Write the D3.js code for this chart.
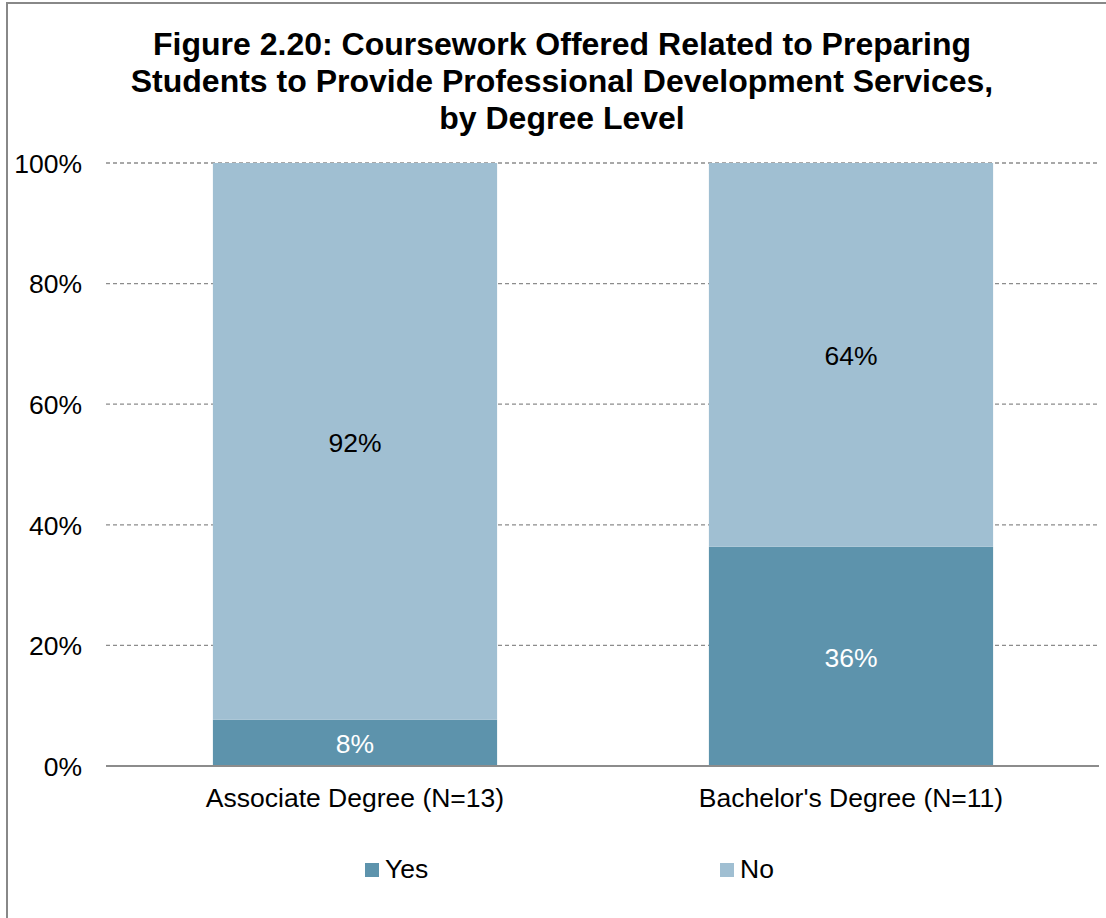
<!DOCTYPE html>
<html><head><meta charset="utf-8">
<script src="https://cdn.jsdelivr.net/npm/d3@7"></script>
<style>body{margin:0;background:#fff;} svg{display:block;font-family:"Liberation Sans",Arial,sans-serif;}</style>
</head><body>
<script>
const categories = ["Associate Degree (N=13)", "Bachelor's Degree (N=11)"];
const seriesNames = ["Yes", "No"];
const yesValues = [7.69, 36.36];
const noValues = [92.31, 63.64];
const yesLabels = ["8%", "36%"];
const noLabels = ["92%", "64%"];
const yTicks = [0, 20, 40, 60, 80, 100];
const titleLines = ["Figure 2.20: Coursework Offered Related to Preparing", "Students to Provide Professional Development Services,", "by Degree Level"];
const colors = {Yes: "#5D93AC", No: "#A0BFD2"};

const W = 1106, H = 918;
const FS = 26.5;
const svg = d3.select("body").append("svg").attr("width", W).attr("height", H);
svg.append("rect").attr("x", 7).attr("y", 3).attr("width", W + 10).attr("height", H + 10)
  .attr("fill", "#fff").attr("stroke", "#888").attr("stroke-width", 2);

svg.append("g").selectAll("text").data(titleLines).join("text")
  .attr("x", 562).attr("y", (d, i) => 55 + i * 37)
  .attr("text-anchor", "middle").attr("font-weight", "bold").attr("font-size", 32).attr("fill", "#000")
  .text(d => d);

const x = d3.scaleBand().domain(categories).range([107, 1099]).paddingInner(0.427).paddingOuter(0.2135);
const y = d3.scaleLinear().domain([0, 100]).range([766, 163]);

// gridlines
svg.append("g").selectAll("line").data(yTicks.filter(t => t > 0)).join("line")
  .attr("x1", 106).attr("x2", 1099).attr("y1", d => y(d)).attr("y2", d => y(d))
  .attr("stroke", "#8c8c8c").attr("stroke-width", 1.3).attr("stroke-dasharray", "4,3");

const stackData = categories.map((c, i) => ({cat: c, Yes: yesValues[i], No: noValues[i]}));
const stack = d3.stack().keys(seriesNames)(stackData);
svg.append("g").selectAll("g").data(stack).join("g").attr("fill", d => colors[d.key])
  .selectAll("rect").data(d => d).join("rect")
  .attr("x", d => x(d.data.cat)).attr("width", x.bandwidth())
  .attr("y", d => y(d[1])).attr("height", d => y(d[0]) - y(d[1]));

// labels
const lab = svg.append("g").attr("font-size", FS).attr("text-anchor", "middle");
stack.forEach((s, si) => {
  s.forEach((d, i) => {
    lab.append("text").attr("x", x(d.data.cat) + x.bandwidth() / 2)
      .attr("y", (y(d[0]) + y(d[1])) / 2).attr("dy", "0.4em")
      .attr("fill", s.key === "Yes" ? "#fff" : "#000")
      .text(s.key === "Yes" ? yesLabels[i] : noLabels[i]);
  });
});

// axes
const yAxis = svg.append("g").attr("transform", "translate(106,0)")
  .call(d3.axisLeft(y).tickValues(yTicks).tickFormat(d => d + "%").tickSize(0).tickPadding(24));
yAxis.select(".domain").remove();
yAxis.selectAll("text").attr("font-size", FS).attr("fill", "#000").attr("dy", "0.35em").attr("font-family", "Liberation Sans, Arial, sans-serif");

svg.append("line").attr("x1", 106).attr("x2", 1099).attr("y1", 766).attr("y2", 766)
  .attr("stroke", "#8c8c8c").attr("stroke-width", 2);

const xAxis = svg.append("g").attr("transform", "translate(0,766)")
  .call(d3.axisBottom(x).tickSize(0).tickPadding(22));
xAxis.select(".domain").remove();
xAxis.selectAll("text").attr("font-size", FS).attr("fill", "#000").attr("font-family", "Liberation Sans, Arial, sans-serif");

// legend
const legX = [365, 720];
const leg = svg.append("g").selectAll("g").data(seriesNames).join("g")
  .attr("transform", (d, i) => `translate(${legX[i]},863)`);
leg.append("rect").attr("width", 14).attr("height", 14).attr("fill", d => colors[d]);
leg.append("text").attr("x", 20).attr("y", 15).attr("font-size", FS).attr("fill", "#000").text(d => d);
</script>
</body></html>
